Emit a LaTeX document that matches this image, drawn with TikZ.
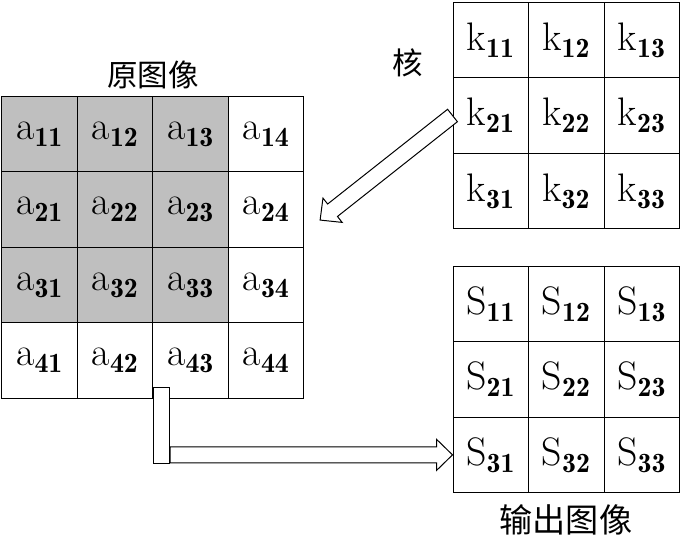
\documentclass[tikz,border=0pt]{standalone}
\usepackage{fontspec}
\newfontfamily\cjk{Noto Sans CJK SC}
\usetikzlibrary{calc}

\begin{document}
\begin{tikzpicture}[line width=0.75pt,
	gridcell/.style={draw, minimum size=2cm, inner sep=0pt, font=\fontsize{30}{34}\selectfont},
	shaded/.style={gridcell, fill=gray!50},
	hollow/.style={draw, fill=white, line join=miter}]

\useasboundingbox (0,0) rectangle (18.04,14.44);

	% original image
	\node (a11)[shaded] at (1.05,10.89) {$\mathrm{a}_{\mathbf{11}}$};
	\node (a12)[shaded] at (3.05,10.89) {$\mathrm{a}_{\mathbf{12}}$};
	\node (a13)[shaded] at (5.05,10.89) {$\mathrm{a}_{\mathbf{13}}$};
	\node (a14)[gridcell] at (7.05,10.89) {$\mathrm{a}_{\mathbf{14}}$};
	\node (a21)[shaded] at (1.05,8.89) {$\mathrm{a}_{\mathbf{21}}$};
	\node (a22)[shaded] at (3.05,8.89) {$\mathrm{a}_{\mathbf{22}}$};
	\node (a23)[shaded] at (5.05,8.89) {$\mathrm{a}_{\mathbf{23}}$};
	\node (a24)[gridcell] at (7.05,8.89) {$\mathrm{a}_{\mathbf{24}}$};
	\node (a31)[shaded] at (1.05,6.89) {$\mathrm{a}_{\mathbf{31}}$};
	\node (a32)[shaded] at (3.05,6.89) {$\mathrm{a}_{\mathbf{32}}$};
	\node (a33)[shaded] at (5.05,6.89) {$\mathrm{a}_{\mathbf{33}}$};
	\node (a34)[gridcell] at (7.05,6.89) {$\mathrm{a}_{\mathbf{34}}$};
	\node (a41)[gridcell] at (1.05,4.89) {$\mathrm{a}_{\mathbf{41}}$};
	\node (a42)[gridcell] at (3.05,4.89) {$\mathrm{a}_{\mathbf{42}}$};
	\node (a43)[gridcell] at (5.05,4.89) {$\mathrm{a}_{\mathbf{43}}$};
	\node (a44)[gridcell] at (7.05,4.89) {$\mathrm{a}_{\mathbf{44}}$};

	% kernel
	\node (k11)[gridcell] at (13,13.38) {$\mathrm{k}_{\mathbf{11}}$};
	\node (k12)[gridcell] at (15,13.38) {$\mathrm{k}_{\mathbf{12}}$};
	\node (k13)[gridcell] at (17,13.38) {$\mathrm{k}_{\mathbf{13}}$};
	\node (k21)[gridcell] at (13,11.38) {$\mathrm{k}_{\mathbf{21}}$};
	\node (k22)[gridcell] at (15,11.38) {$\mathrm{k}_{\mathbf{22}}$};
	\node (k23)[gridcell] at (17,11.38) {$\mathrm{k}_{\mathbf{23}}$};
	\node (k31)[gridcell] at (13,9.38) {$\mathrm{k}_{\mathbf{31}}$};
	\node (k32)[gridcell] at (15,9.38) {$\mathrm{k}_{\mathbf{32}}$};
	\node (k33)[gridcell] at (17,9.38) {$\mathrm{k}_{\mathbf{33}}$};

	% output image
	\node (s11)[gridcell] at (13,6.39) {$\mathrm{S}_{\mathbf{11}}$};
	\node (s12)[gridcell] at (15,6.39) {$\mathrm{S}_{\mathbf{12}}$};
	\node (s13)[gridcell] at (17,6.39) {$\mathrm{S}_{\mathbf{13}}$};
	\node (s21)[gridcell] at (13,4.39) {$\mathrm{S}_{\mathbf{21}}$};
	\node (s22)[gridcell] at (15,4.39) {$\mathrm{S}_{\mathbf{22}}$};
	\node (s23)[gridcell] at (17,4.39) {$\mathrm{S}_{\mathbf{23}}$};
	\node (s31)[gridcell] at (13,2.39) {$\mathrm{S}_{\mathbf{31}}$};
	\node (s32)[gridcell] at (15,2.39) {$\mathrm{S}_{\mathbf{32}}$};
	\node (s33)[gridcell] at (17,2.39) {$\mathrm{S}_{\mathbf{33}}$};

	\node (L1) at (4.05,12.45) {\cjk\fontsize{23}{28}\selectfont 原图像};
	\node (L2) at (10.81,12.77) {\cjk\fontsize{23}{28}\selectfont 核};
	\node (L3) at (14.99,0.66) {\cjk\fontsize{25}{30}\selectfont 输出图像};

	% kernel -> original image
	\coordinate (T1) at (k21.west);
	\coordinate (H1) at (8.48,8.61);
	\coordinate (P1) at ($(H1)!0.42cm!(T1)$);
	\draw[hollow] ($(T1)!0.21cm!90:(H1)$) -- ($(P1)!0.21cm!90:(H1)$) -- ($(P1)!0.41cm!90:(H1)$) -- (H1)
		-- ($(P1)!0.41cm!-90:(H1)$) -- ($(P1)!0.21cm!-90:(H1)$) -- ($(T1)!0.21cm!-90:(H1)$) -- cycle;

	% original image -> output image
	\node (R)[hollow, minimum width=0.43cm, minimum height=2.02cm, inner sep=0pt, anchor=north west] at (4.05,4.19) {};
	\coordinate (T2) at (R.east |- s31.west);
	\coordinate (H2) at (s31.west);
	\coordinate (P2) at ($(H2)!0.42cm!(T2)$);
	\draw[hollow] ($(T2)!0.21cm!90:(H2)$) -- ($(P2)!0.21cm!90:(H2)$) -- ($(P2)!0.41cm!90:(H2)$) -- (H2)
		-- ($(P2)!0.41cm!-90:(H2)$) -- ($(P2)!0.21cm!-90:(H2)$) -- ($(T2)!0.21cm!-90:(H2)$) -- cycle;

\end{tikzpicture}
\end{document}
